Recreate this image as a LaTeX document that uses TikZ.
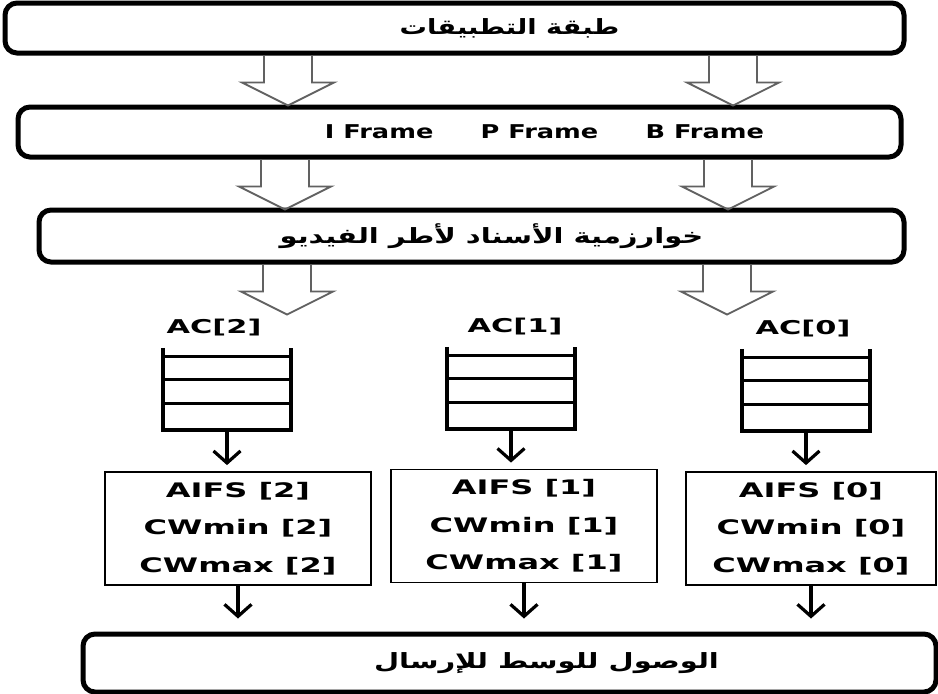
\documentclass[tikz,border=0pt]{standalone}
\usepackage{fontspec}
\setmainfont{DejaVu Sans}
\newfontfamily\arabicfont[Script=Arabic]{DejaVu Sans}
\TeXXeTstate=1
\usetikzlibrary{arrows.meta,positioning,calc}

\newcommand{\wide}[2][1.6]{\scalebox{#1}[1]{#2}}
\newcommand{\hollowarrow}[2]{\draw[hollow] ($(#1.south)+(#2,0)$) +(-24,0) -- +(-24,27) -- +(-46,27) -- +(0,50) -- +(46,27) -- +(24,27) -- +(24,0);}

\tikzset{
  layer/.style={draw, line width=5pt, rounded corners=12pt, inner sep=0pt},
  lbl/.style={font=\bfseries\fontsize{19}{22}\selectfont},
  arlbl/.style={font=\arabicfont\bfseries\fontsize{21}{22}\selectfont},
  hollow/.style={draw=black!62, line width=1.8pt, line join=miter},
  qline/.style={line width=3.5pt},
  queue/.style={minimum width=128pt, minimum height=82pt, inner sep=0pt},
  parbox/.style={draw, line width=1.8pt, minimum height=113pt, align=center,
    font=\bfseries\fontsize{20}{37.5}\selectfont},
  stem/.style={line width=3.2pt, -{Straight Barb[length=12pt,width=27pt]}}
}

\begin{document}
\begin{tikzpicture}[x=1pt,y=-1pt]
\useasboundingbox (0,0) rectangle (938,694);

% layers
\node[layer, minimum width=899pt, minimum height=50pt,
  label={[arlbl,xshift=55pt]center:{\wide[1.3]{\beginR طبقة التطبيقات\endR}}}] (app) at (454.5,28) {};
\node[layer, minimum width=883pt, minimum height=50pt,
  label={[lbl,xshift=85pt]center:{\wide[1.35]{I Frame\hspace{35pt}P Frame\hspace{35pt}B Frame}}}] (frames) at (459.5,132) {};
\node[layer, minimum width=865pt, minimum height=52pt,
  label={[arlbl,xshift=20pt]center:{\wide[1.38]{\beginR خوارزمية الأسناد لأطر الفيديو\endR}}}] (sched) at (471.5,236) {};
\node[layer, minimum width=853pt, minimum height=58pt,
  label={[arlbl,xshift=37pt]center:{\wide[1.38]{\beginR الوصول للوسط للإرسال\endR}}}] (access) at (509.5,663) {};

\hollowarrow{app}{-166.5}
\hollowarrow{app}{278.5}
\hollowarrow{frames}{-174.5}
\hollowarrow{frames}{268.5}
\hollowarrow{sched}{-184.5}
\hollowarrow{sched}{255.5}

% access categories
\foreach \q/\x/\y/\n/\dx in {q2/227/389/2/-13, q1/511/388/1/4, q0/806/390/0/-3}{
  \node[queue] (\q) at (\x,\y) {};
  \node[lbl] (ac\n) at ($(\q.north)+(\dx,-20)$) {\wide{AC[\n]}};
  \draw[qline] (\q.north west) -- (\q.south west) -- (\q.south east) -- (\q.north east);
  \foreach \f in {0.11,0.39,0.67}
    \draw[line width=3pt] ($(\q.north west)!\f!(\q.south west)$) -- ($(\q.north east)!\f!(\q.south east)$);
}

\node[parbox, minimum width=266pt] (p2) at (238,528.5) {\wide{AIFS [2]}\\\wide{CWmin [2]}\\\wide{CWmax [2]}};
\node[parbox, minimum width=266pt] (p1) at (524,526) {\wide{AIFS [1]}\\\wide{CWmin [1]}\\\wide{CWmax [1]}};
\node[parbox, minimum width=250pt] (p0) at (811,528.5) {\wide{AIFS [0]}\\\wide{CWmin [0]}\\\wide{CWmax [0]}};

\foreach \n in {2,1,0}{
  \draw[stem, shorten >=6pt] (q\n.south) -- (q\n.south |- p\n.north);
  \draw[stem, shorten >=13pt] (p\n.south) -- (p\n.south |- access.north);
}
\end{tikzpicture}
\end{document}
